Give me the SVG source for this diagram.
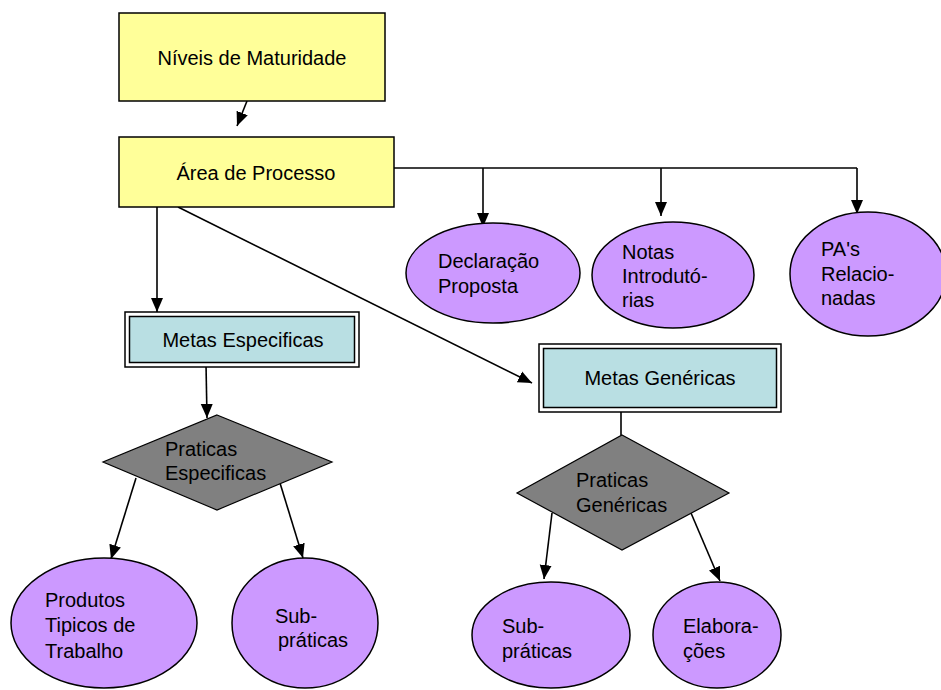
<svg xmlns="http://www.w3.org/2000/svg" width="941" height="690" viewBox="0 0 941 690">
<defs>
<style>
text{font-family:"Liberation Sans",Arial,sans-serif;font-size:20px;fill:#000}
.rect{fill:#FFFF99;stroke:#000;stroke-width:1.5}
.ell{fill:#CC99FF;stroke:#000;stroke-width:1.5}
.dia{fill:#808080;stroke:#000;stroke-width:1.2}
.outer{fill:#fff;stroke:#000;stroke-width:1.5}
.inner{fill:#B9DFE3;stroke:#000;stroke-width:1.5}
.ln{fill:none;stroke:#000;stroke-width:1.6}
.ar{fill:none;stroke:#000;stroke-width:1.6;marker-end:url(#ah)}
</style>
<marker id="ah" markerUnits="userSpaceOnUse" markerWidth="16" markerHeight="16" viewBox="0 0 16 16" refX="14" refY="8" orient="auto">
<path d="M0,2 L14,8 L0,14 Z" fill="#000"/>
</marker>
</defs>
<g id="connectors">
<line class="ar" x1="247" y1="101" x2="237" y2="126"/>
<polyline class="ln" points="394,168 857,168"/>
<line class="ar" x1="483" y1="168" x2="483" y2="227"/>
<line class="ar" x1="661" y1="168" x2="661" y2="216"/>
<line class="ar" x1="857" y1="168" x2="857" y2="214"/>
<line class="ar" x1="157" y1="207" x2="157" y2="312"/>
<line class="ar" x1="178" y1="207" x2="532" y2="383"/>
<line class="ar" x1="206" y1="364" x2="207" y2="418"/>
<line class="ln" x1="621" y1="407" x2="621" y2="435"/>
<line class="ar" x1="136" y1="478" x2="111" y2="559"/>
<line class="ar" x1="280" y1="483" x2="303" y2="558"/>
<line class="ar" x1="552" y1="513" x2="544" y2="579"/>
<line class="ar" x1="691" y1="513" x2="720" y2="581"/>
</g>
<g id="niveis">
<rect class="rect" x="119" y="13" width="266" height="88"/>
<text x="252" y="65" text-anchor="middle">Níveis de Maturidade</text>
</g>
<g id="area">
<rect class="rect" x="119" y="137" width="275" height="70"/>
<text x="256" y="180" text-anchor="middle">Área de Processo</text>
</g>
<g id="declaracao">
<ellipse class="ell" cx="493" cy="273" rx="87" ry="50"/>
<text x="438" y="268">Declaração</text>
<text x="438" y="293">Proposta</text>
</g>
<g id="notas">
<ellipse class="ell" cx="673" cy="275" rx="81" ry="53"/>
<text x="622" y="259">Notas</text>
<text x="622" y="283">Introdutó-</text>
<text x="622" y="307">rias</text>
</g>
<g id="pas">
<ellipse class="ell" cx="868" cy="274" rx="78" ry="62"/>
<text x="821" y="256">PA's</text>
<text x="821" y="281">Relacio-</text>
<text x="821" y="305">nadas</text>
</g>
<g id="metas-especificas">
<rect class="outer" x="125" y="312" width="234" height="55"/>
<rect class="inner" x="129.5" y="316.5" width="225" height="46"/>
<text x="243" y="347" text-anchor="middle">Metas Especificas</text>
</g>
<g id="metas-genericas">
<rect class="outer" x="539" y="344" width="242" height="68"/>
<rect class="inner" x="543.5" y="348.5" width="233" height="59"/>
<text x="660" y="385" text-anchor="middle">Metas Genéricas</text>
</g>
<g id="praticas-especificas">
<polygon class="dia" points="217,415 332,462 217,510 103,462"/>
<text x="165" y="456">Praticas</text>
<text x="165" y="480">Especificas</text>
</g>
<g id="praticas-genericas">
<polygon class="dia" points="622,435 729,493 622,550 517,493"/>
<text x="576" y="487">Praticas</text>
<text x="576" y="512">Genéricas</text>
</g>
<g id="produtos">
<ellipse class="ell" cx="104" cy="623" rx="93" ry="65"/>
<text x="45" y="607">Produtos</text>
<text x="45" y="632">Tipicos de</text>
<text x="45" y="658">Trabalho</text>
</g>
<g id="subpraticas-1">
<ellipse class="ell" cx="305" cy="623" rx="73" ry="65"/>
<text x="296" y="623" text-anchor="middle">Sub-</text>
<text x="313" y="647" text-anchor="middle">práticas</text>
</g>
<g id="subpraticas-2">
<ellipse class="ell" cx="551" cy="635" rx="79" ry="53"/>
<text x="502" y="633">Sub-</text>
<text x="502" y="658">práticas</text>
</g>
<g id="elaboracoes">
<ellipse class="ell" cx="717" cy="635" rx="64" ry="53"/>
<text x="683" y="633">Elabora-</text>
<text x="683" y="658">ções</text>
</g>
</svg>
